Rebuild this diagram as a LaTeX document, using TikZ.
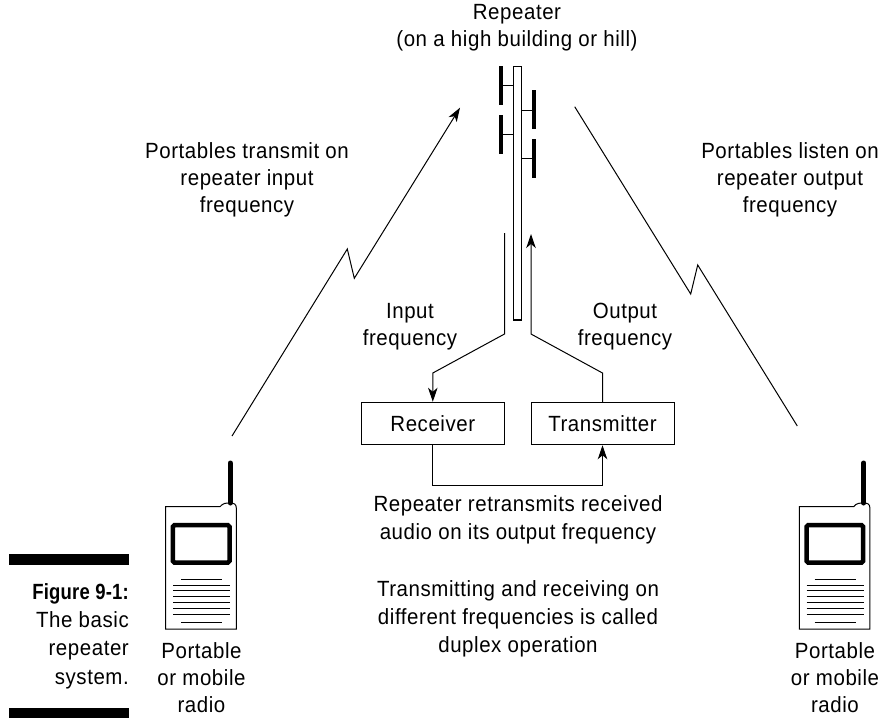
\documentclass[tikz,border=0pt]{standalone}
\usepackage{fontspec}
\setmainfont[FakeStretch=0.93,LetterSpace=2.6]{Liberation Sans}
\newfontfamily\capbold[FakeStretch=0.84,LetterSpace=1]{Liberation Sans}
\usetikzlibrary{arrows.meta}
\tikzset{
 x=1pt,y=-1pt,
 lbl/.style={align=center,font=\fontsize{22}{27}\selectfont,inner sep=0pt,text=black},
 lbl28/.style={align=center,font=\fontsize{22}{28}\selectfont,inner sep=0pt,text=black},
 capt/.style={align=right,anchor=east,font=\fontsize{22}{28.3}\selectfont,inner sep=0pt},
 boxn/.style={draw,line width=1pt,minimum width=143pt,minimum height=42.5pt,inner sep=0pt,font=\fontsize{22}{27}\selectfont},
 wire/.style={line width=1pt,line join=miter},
 tip/.style={-{Stealth[length=14pt,width=9.5pt,inset=4pt]}}
}
\newcommand{\radio}[1]{%
 \begin{scope}[shift={(#1,0)}]
  \draw[line width=1pt] (165.7,629) -- (165.7,506.7) -- (220,506.7) .. controls (223,503) and (226,503) .. (230,503) .. controls (234,503) and (236.3,504) .. (236.3,508) -- (236.3,629) -- cycle;
  \draw[line width=5pt,line cap=round] (230.2,463) -- (230.2,503);
  \draw[line width=4.5pt,rounded corners=1.5pt] (172.9,525.2) rectangle (229.5,562.5);
  \draw[line width=1pt] (181,579.3) -- (222,579.3) (181,622) -- (222,622);
  \foreach \yy in {585.3,590.9,596.7,602.7,608.7,614.2} \draw[line width=1pt] (173,\yy) -- (230,\yy);
 \end{scope}}
\begin{document}
\begin{tikzpicture}
\useasboundingbox (0,0) rectangle (880,718);
\node[lbl] (rep) at (517,27.5) {Repeater\\(on a high building or hill)};
\node[lbl] (ptx) at (247,180) {Portables transmit on\\repeater input\\frequency};
\node[lbl] (prx) at (790,180) {Portables listen on\\repeater output\\frequency};
\node[lbl] (inf) at (410,327) {Input\\frequency};
\node[lbl] (outf) at (625,327) {Output\\frequency};
\node[lbl28] (note1) at (518,520) {Repeater retransmits received\\audio on its output frequency};
\node[lbl28] (note2) at (518,619) {Transmitting and receiving on\\different frequencies is called\\duplex operation};
\node[lbl] (pl) at (201.5,678) {Portable\\or mobile\\radio};
\node[lbl] (pr) at (835,678) {Portable\\or mobile\\radio};
\node[capt] (fig) at (129,636) {{\capbold\bfseries Figure 9-1:}\\The basic\\repeater\\system.};
\fill (9,554) rectangle (129,565);
\fill (9,708) rectangle (129,718);
% mast
\draw[line width=1.2pt] (513.5,66.5) rectangle (521.5,320);
\fill (498.8,66) rectangle (503.2,105);
\fill (498.8,115) rectangle (503.2,154);
\fill (531.8,90) rectangle (536.2,129);
\fill (531.8,139) rectangle (536.2,178);
\draw[line width=1pt] (503,85.7) -- (513.5,85.7) (503,134) -- (513.5,134) (521.5,110) -- (532,110) (521.5,158) -- (532,158);
% boxes
\node[boxn] (rx) at (432.8,423.5) {Receiver};
\node[boxn] (tx) at (602.5,423.5) {Transmitter};
\coordinate (ina) at (504.5,233);
\coordinate (inb) at (504.5,334);
\coordinate (inc) at (432.8,373);
\coordinate (outa) at (531,234);
\coordinate (outb) at (531,334);
\coordinate (outc) at (602.5,373);
\draw[wire,tip] (ina) -- (inb) -- (inc) -- (rx.north);
\draw[wire,tip] (tx.north) -- (outc) -- (outb) -- (outa);
\draw[wire,tip] (rx.south) -- (432.8,485) -- (602.5,485) -- (tx.south);
% radio links
\coordinate (l0) at (232,436); \coordinate (l1) at (347.3,249); \coordinate (l2) at (354.3,278.3); \coordinate (l3) at (460,107.7);
\draw[wire,tip] (l0) -- (l1) -- (l2) -- (l3);
\coordinate (r0) at (574.7,106.7); \coordinate (r1) at (690.7,294); \coordinate (r2) at (697.7,265); \coordinate (r3) at (797.3,426);
\draw[wire] (r0) -- (r1) -- (r2) -- (r3);
\radio{0}
\radio{633.6}
\end{tikzpicture}
\end{document}
